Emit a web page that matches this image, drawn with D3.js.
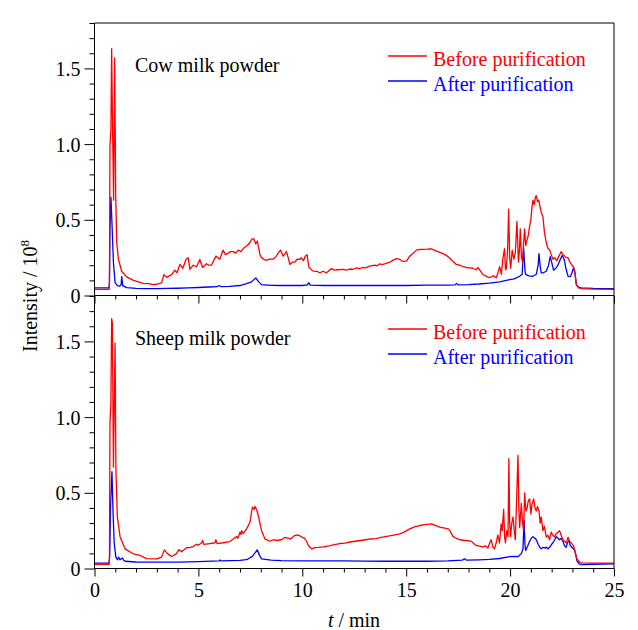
<!DOCTYPE html>
<html><head><meta charset="utf-8">
<script src="https://cdn.jsdelivr.net/npm/d3@7/dist/d3.min.js"></script>
<style>body{margin:0;background:#fff}svg{display:block}text{font-family:"Liberation Serif","Times New Roman",serif}</style>
</head><body><svg id="c" width="638" height="630"></svg>
<script>
const panelLabels = ["Cow milk powder", "Sheep milk powder"];
const seriesNames = ["Before purification", "After purification"];
const yTickValues = [0, 0.5, 1.0, 1.5];
const yTickLabels = ["0", "0.5", "1.0", "1.5"];
const xTickValues = [0, 5, 10, 15, 20, 25];
const xTickLabels = ["0", "5", "10", "15", "20", "25"];

const cowBefore = [[0,0.04],[0.70,0.04],[0.72,0.09],[0.745,0.99],[0.79,1.10],[0.825,1.63],[0.87,1.10],[0.92,0.63],[0.97,1.57],[1.02,0.66],[1.07,0.35],[1.15,0.24],[1.31,0.16],[1.55,0.123],[1.87,0.10],[2.35,0.08],[2.6,0.078],[2.83,0.072],[3.05,0.076],[3.23,0.083],[3.34,0.138],[3.47,0.12],[3.6,0.13],[3.71,0.138],[3.87,0.167],[3.97,0.15],[4.11,0.205],[4.25,0.18],[4.4,0.238],[4.51,0.25],[4.59,0.172],[4.75,0.2],[4.91,0.19],[5.07,0.238],[5.2,0.185],[5.39,0.21],[5.5,0.2],[5.63,0.2],[5.84,0.26],[6.03,0.24],[6.19,0.30],[6.3,0.27],[6.43,0.28],[6.55,0.29],[6.68,0.29],[6.8,0.28],[6.92,0.30],[7.05,0.29],[7.16,0.31],[7.35,0.33],[7.48,0.35],[7.56,0.37],[7.67,0.375],[7.76,0.34],[7.84,0.36],[7.96,0.27],[8.04,0.25],[8.2,0.235],[8.28,0.233],[8.44,0.24],[8.6,0.24],[8.75,0.26],[8.84,0.28],[8.95,0.30],[9.08,0.26],[9.24,0.29],[9.32,0.25],[9.4,0.205],[9.52,0.22],[9.64,0.22],[9.75,0.24],[9.88,0.238],[9.95,0.25],[10.05,0.23],[10.15,0.26],[10.23,0.27],[10.3,0.2],[10.33,0.183],[10.52,0.161],[10.7,0.16],[10.84,0.15],[11.0,0.16],[11.16,0.15],[11.3,0.165],[11.4,0.178],[11.55,0.168],[11.7,0.17],[11.96,0.172],[12.1,0.168],[12.3,0.175],[12.45,0.172],[12.6,0.183],[12.75,0.178],[12.9,0.185],[13.05,0.182],[13.24,0.194],[13.5,0.2],[13.6,0.196],[13.73,0.209],[13.85,0.204],[14.0,0.21],[14.21,0.22],[14.4,0.235],[14.53,0.244],[14.69,0.238],[14.85,0.225],[15.01,0.227],[15.17,0.26],[15.35,0.28],[15.49,0.30],[15.65,0.304],[15.81,0.305],[16.0,0.306],[16.21,0.308],[16.35,0.30],[16.53,0.29],[16.77,0.277],[16.93,0.265],[17.09,0.248],[17.25,0.225],[17.41,0.205],[17.57,0.20],[17.75,0.19],[17.89,0.185],[18.05,0.183],[18.2,0.18],[18.37,0.17],[18.45,0.185],[18.5,0.176],[18.69,0.139],[18.85,0.128],[19.01,0.117],[19.2,0.13],[19.33,0.117],[19.42,0.15],[19.5,0.19],[19.58,0.14],[19.65,0.24],[19.73,0.31],[19.78,0.17],[19.82,0.18],[19.88,0.3],[19.93,0.57],[19.98,0.25],[20.03,0.18],[20.1,0.3],[20.18,0.24],[20.25,0.28],[20.33,0.49],[20.4,0.22],[20.45,0.3],[20.49,0.44],[20.55,0.25],[20.6,0.22],[20.65,0.35],[20.7,0.44],[20.75,0.33],[20.8,0.36],[20.88,0.40],[20.94,0.46],[21.0,0.5],[21.05,0.58],[21.1,0.63],[21.16,0.6],[21.22,0.65],[21.26,0.66],[21.32,0.62],[21.38,0.63],[21.42,0.6],[21.5,0.55],[21.58,0.52],[21.65,0.42],[21.74,0.35],[21.82,0.31],[21.9,0.30],[21.98,0.27],[22.06,0.24],[22.15,0.25],[22.25,0.23],[22.35,0.26],[22.46,0.29],[22.55,0.27],[22.63,0.26],[22.72,0.25],[22.79,0.25],[22.88,0.22],[22.95,0.205],[23.05,0.19],[23.11,0.16],[23.19,0.07],[23.3,0.05],[23.43,0.046],[24.0,0.042],[25,0.04]];

const cowAfter = [[0,0.05],[0.70,0.05],[0.72,0.09],[0.745,0.44],[0.79,0.65],[0.84,0.48],[0.91,0.22],[0.99,0.085],[1.1,0.065],[1.2,0.062],[1.28,0.07],[1.31,0.125],[1.36,0.065],[1.55,0.052],[2.0,0.047],[2.5,0.045],[3.0,0.046],[3.5,0.047],[4.0,0.048],[4.5,0.05],[5.0,0.053],[5.5,0.056],[5.9,0.058],[6.0,0.066],[6.1,0.058],[6.5,0.06],[7.0,0.066],[7.32,0.078],[7.55,0.09],[7.76,0.116],[7.9,0.09],[8.04,0.072],[8.5,0.067],[9.0,0.066],[9.5,0.066],[10.0,0.066],[10.25,0.07],[10.3,0.084],[10.4,0.068],[11,0.066],[12,0.066],[13,0.066],[14,0.066],[15,0.066],[16,0.068],[17,0.068],[17.35,0.07],[17.42,0.08],[17.5,0.07],[18,0.072],[18.5,0.076],[19,0.082],[19.5,0.09],[19.98,0.105],[20.2,0.11],[20.46,0.127],[20.58,0.14],[20.65,0.315],[20.72,0.16],[20.75,0.139],[20.9,0.13],[21.1,0.127],[21.26,0.14],[21.35,0.2],[21.39,0.277],[21.45,0.19],[21.5,0.149],[21.6,0.15],[21.74,0.16],[21.85,0.2],[21.93,0.256],[22.0,0.22],[22.09,0.167],[22.2,0.18],[22.3,0.2],[22.42,0.24],[22.51,0.265],[22.6,0.24],[22.7,0.17],[22.79,0.127],[22.9,0.125],[22.98,0.15],[23.05,0.183],[23.12,0.15],[23.19,0.072],[23.3,0.055],[23.43,0.05],[24,0.047],[25,0.046]];

const sheepBefore = [[0,0.027],[0.70,0.027],[0.72,0.07],[0.745,0.96],[0.79,1.1],[0.825,1.65],[0.86,1.62],[0.91,0.67],[0.99,1.49],[1.03,0.65],[1.1,0.34],[1.23,0.21],[1.47,0.13],[1.87,0.097],[2.19,0.086],[2.51,0.065],[2.99,0.064],[3.23,0.075],[3.36,0.123],[3.5,0.1],[3.71,0.079],[3.95,0.098],[4.06,0.125],[4.19,0.11],[4.43,0.137],[4.6,0.14],[4.75,0.145],[4.91,0.16],[5.0,0.155],[5.15,0.168],[5.2,0.185],[5.26,0.16],[5.55,0.165],[5.8,0.17],[5.84,0.19],[5.9,0.165],[6.19,0.17],[6.51,0.178],[6.84,0.212],[6.9,0.2],[7.0,0.24],[7.05,0.225],[7.08,0.25],[7.15,0.23],[7.32,0.262],[7.48,0.306],[7.6,0.405],[7.68,0.39],[7.72,0.41],[7.8,0.39],[7.88,0.35],[8.04,0.25],[8.2,0.196],[8.44,0.18],[8.6,0.19],[8.76,0.185],[9.0,0.19],[9.15,0.205],[9.3,0.2],[9.45,0.195],[9.6,0.215],[9.75,0.222],[9.9,0.215],[10.0,0.205],[10.1,0.2],[10.2,0.18],[10.3,0.15],[10.45,0.13],[10.6,0.138],[10.8,0.14],[11.0,0.143],[11.3,0.15],[11.55,0.158],[11.8,0.165],[12.05,0.168],[12.3,0.175],[12.55,0.18],[12.8,0.185],[13.05,0.19],[13.3,0.195],[13.55,0.198],[13.8,0.205],[14.0,0.21],[14.2,0.215],[14.45,0.222],[14.69,0.229],[14.9,0.24],[15.17,0.262],[15.4,0.275],[15.65,0.284],[15.9,0.29],[16.21,0.295],[16.4,0.285],[16.61,0.273],[16.8,0.268],[17.01,0.262],[17.1,0.25],[17.25,0.212],[17.4,0.2],[17.57,0.19],[17.85,0.185],[18.13,0.181],[18.25,0.165],[18.37,0.152],[18.5,0.15],[18.69,0.141],[18.8,0.15],[18.93,0.135],[19.05,0.18],[19.09,0.19],[19.18,0.14],[19.25,0.13],[19.33,0.17],[19.41,0.22],[19.49,0.17],[19.57,0.295],[19.62,0.25],[19.69,0.39],[19.74,0.2],[19.78,0.17],[19.84,0.25],[19.9,0.21],[19.94,0.725],[19.98,0.3],[20.02,0.21],[20.08,0.3],[20.14,0.34],[20.2,0.25],[20.25,0.19],[20.3,0.4],[20.38,0.747],[20.42,0.4],[20.46,0.27],[20.54,0.43],[20.6,0.3],[20.65,0.25],[20.7,0.5],[20.76,0.38],[20.82,0.4],[20.88,0.45],[20.94,0.46],[21.0,0.36],[21.05,0.42],[21.13,0.46],[21.2,0.4],[21.26,0.38],[21.32,0.41],[21.39,0.38],[21.45,0.3],[21.5,0.34],[21.58,0.25],[21.65,0.28],[21.74,0.207],[21.82,0.22],[21.9,0.19],[21.98,0.24],[22.06,0.22],[22.14,0.21],[22.22,0.23],[22.3,0.24],[22.38,0.25],[22.46,0.22],[22.54,0.19],[22.62,0.18],[22.7,0.17],[22.79,0.207],[22.86,0.18],[22.95,0.17],[23.05,0.15],[23.11,0.12],[23.22,0.064],[23.32,0.045],[23.43,0.037],[24,0.035],[25,0.035]];

const sheepAfter = [[0,0.035],[0.70,0.035],[0.73,0.08],[0.78,0.44],[0.84,0.64],[0.89,0.38],[0.95,0.163],[1.03,0.075],[1.1,0.058],[1.16,0.075],[1.22,0.058],[1.3,0.065],[1.35,0.07],[1.4,0.055],[1.47,0.048],[2.0,0.043],[3.0,0.042],[4.0,0.042],[5.0,0.045],[6.0,0.05],[6.05,0.056],[6.1,0.05],[7.0,0.054],[7.32,0.058],[7.6,0.08],[7.83,0.123],[7.95,0.085],[8.04,0.064],[8.5,0.055],[9,0.052],[10,0.05],[11,0.05],[12,0.05],[13,0.049],[14,0.048],[15,0.048],[16,0.048],[17,0.05],[17.7,0.055],[17.81,0.064],[17.9,0.055],[18.5,0.057],[19,0.06],[19.5,0.066],[19.98,0.079],[20.2,0.08],[20.38,0.078],[20.55,0.1],[20.62,0.13],[20.67,0.317],[20.72,0.15],[20.75,0.119],[20.85,0.15],[20.94,0.18],[21.02,0.2],[21.1,0.21],[21.2,0.2],[21.26,0.19],[21.35,0.16],[21.42,0.141],[21.5,0.13],[21.6,0.14],[21.7,0.135],[21.74,0.141],[21.82,0.13],[21.9,0.14],[22.0,0.16],[22.06,0.17],[22.15,0.19],[22.22,0.212],[22.3,0.2],[22.38,0.19],[22.46,0.2],[22.54,0.18],[22.62,0.15],[22.7,0.14],[22.76,0.17],[22.83,0.185],[22.9,0.15],[22.97,0.14],[23.11,0.12],[23.22,0.05],[23.32,0.03],[23.43,0.026],[24,0.028],[25,0.03]];

const panelsData = [[cowBefore, cowAfter], [sheepBefore, sheepAfter]];
const colors = ["#ff0000", "#0000ff"];

const svg = d3.select("#c");
const L = 94.5, R = 614;
const panelTops = [23, 296];
const panelH = 272.5;
const x = d3.scaleLinear().domain([0, 25]).range([L, R]);
const font = 20;

panelsData.forEach((series, pi) => {
  const top = panelTops[pi], bot = top + panelH;
  const y = d3.scaleLinear().domain([0, 1.8]).range([bot, top]);
  const g = svg.append("g");
  const line = d3.line().x(d => x(d[0])).y(d => y(d[1]));
  [1, 0].forEach(si => {
    g.append("path").datum(series[si]).attr("d", line)
      .attr("fill", "none").attr("stroke", colors[si]).attr("stroke-width", 1.3)
      .attr("stroke-linejoin", "round");
  });
  const yMinor = d3.range(0, 19).map(i => i / 10).filter(v => yTickValues.indexOf(Math.round(v*10)/10) < 0);
  g.append("g").attr("transform", `translate(${L},0)`)
    .call(d3.axisLeft(y).tickValues(yMinor).tickSize(5).tickFormat(""))
    .call(a => a.select(".domain").remove());
  const ya = g.append("g").attr("transform", `translate(${L},0)`)
    .call(d3.axisLeft(y).tickValues(yTickValues).tickSize(10).tickPadding(4)
      .tickFormat((d, i) => yTickLabels[i]));
  ya.select(".domain").remove();
  ya.selectAll("text").attr("font-size", font).attr("fill", "#000")
    .attr("font-family", "'Liberation Serif', serif").attr("dy", "0.35em");
  g.append("g").attr("transform", `translate(0,${bot})`)
    .call(d3.axisBottom(x).tickValues(d3.range(0, 26).filter(v => v % 5)).tickSize(4).tickFormat(""))
    .call(a => a.select(".domain").remove());
  const xa = g.append("g").attr("transform", `translate(0,${bot})`)
    .call(d3.axisBottom(x).tickValues(xTickValues).tickSize(8).tickPadding(6)
      .tickFormat((d, i) => pi === 1 ? xTickLabels[i] : ""));
  xa.select(".domain").remove();
  xa.selectAll("text").attr("font-size", font).attr("fill", "#000")
    .attr("font-family", "'Liberation Serif', serif");
  g.selectAll(".tick line").attr("stroke", "#000");
  g.append("line").attr("x1", L).attr("x2", L).attr("y1", top).attr("y2", bot).attr("stroke", "#000");
  g.append("line").attr("x1", R).attr("x2", R).attr("y1", top).attr("y2", bot).attr("stroke", "#000");
  g.append("line").attr("x1", L).attr("x2", R).attr("y1", bot).attr("y2", bot).attr("stroke", "#000");
  if (pi === 0) g.append("line").attr("x1", L).attr("x2", R).attr("y1", top).attr("y2", top).attr("stroke", "#000");
  g.append("text").attr("x", 135).attr("y", top + 49).attr("font-size", font)
    .attr("fill", "#000").text(panelLabels[pi]);
  seriesNames.forEach((nm, si) => {
    const ly = top + 33 + si * 25;
    g.append("line").attr("x1", 388).attr("x2", 427).attr("y1", ly).attr("y2", ly)
      .attr("stroke", colors[si]).attr("stroke-width", 1.3);
    g.append("text").attr("x", 433).attr("y", ly + 10).attr("font-size", font)
      .attr("fill", colors[si]).text(nm);
  });
});

const yt = svg.append("text").attr("transform", "translate(37,296) rotate(-90)")
  .attr("text-anchor", "middle").attr("font-size", font).attr("fill", "#000");
yt.append("tspan").text("Intensity / 10");
yt.append("tspan").attr("dy", -8).attr("font-size", 13).text("8");

const xt = svg.append("text").attr("x", 354).attr("y", 627).attr("text-anchor", "middle")
  .attr("font-size", font).attr("fill", "#000");
xt.append("tspan").attr("font-style", "italic").text("t");
xt.append("tspan").text(" / min");
</script></body></html>
